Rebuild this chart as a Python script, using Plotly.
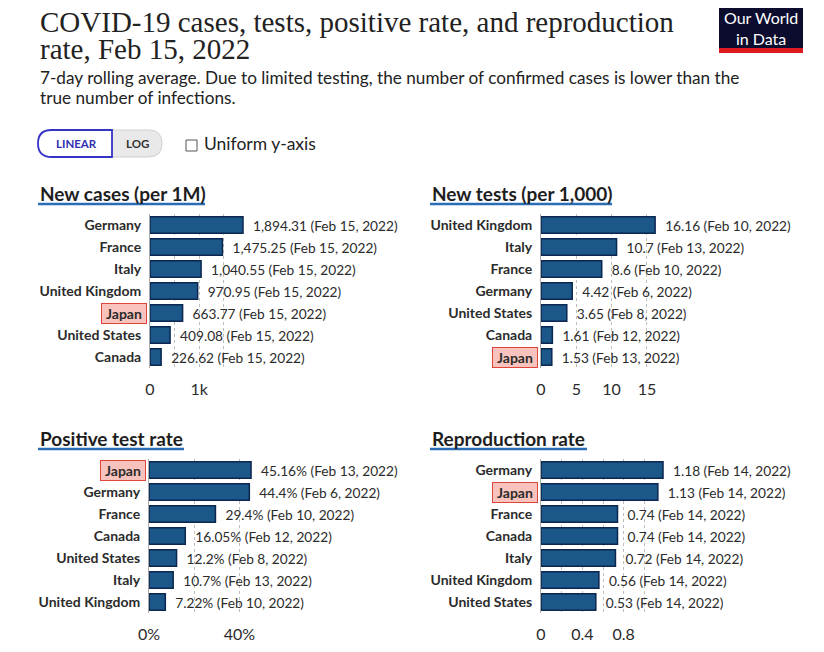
import plotly.graph_objects as go

# page gets an 8px body margin, so the figure is drawn 16px smaller and all
# layout positions below are given in window pixels
OFF = 8
W, H = 824 - 2 * OFF, 652 - 2 * OFF

# New cases (per 1M)
cases_countries = ["Germany", "France", "Italy", "United Kingdom", "Japan", "United States", "Canada"]
cases_values = [1894.31, 1475.25, 1040.55, 970.95, 663.77, 409.08, 226.62]
cases_dates = ["Feb 15, 2022"] * 7

# New tests (per 1,000)
tests_countries = ["United Kingdom", "Italy", "France", "Germany", "United States", "Canada", "Japan"]
tests_values = [16.16, 10.7, 8.6, 4.42, 3.65, 1.61, 1.53]
tests_dates = ["Feb 10, 2022", "Feb 13, 2022", "Feb 10, 2022", "Feb 6, 2022",
               "Feb 8, 2022", "Feb 12, 2022", "Feb 13, 2022"]

# Positive test rate (%)
positive_countries = ["Japan", "Germany", "France", "Canada", "United States", "Italy", "United Kingdom"]
positive_values = [45.16, 44.4, 29.4, 16.05, 12.2, 10.7, 7.22]
positive_dates = ["Feb 13, 2022", "Feb 6, 2022", "Feb 10, 2022", "Feb 12, 2022",
                  "Feb 8, 2022", "Feb 13, 2022", "Feb 10, 2022"]

# Reproduction rate
repro_countries = ["Germany", "Japan", "France", "Canada", "Italy", "United Kingdom", "United States"]
repro_values = [1.18, 1.13, 0.74, 0.74, 0.72, 0.56, 0.53]
repro_dates = ["Feb 14, 2022"] * 7

# x tick values / labels (blank ones only draw a gridline)
cases_ticks, cases_ticktext = [0, 500, 1000, 1500], ["0", "", "1k", ""]
tests_ticks, tests_ticktext = [0, 5, 10, 15], ["0", "5", "10", "15"]
positive_ticks, positive_ticktext = [0, 20, 40], ["0%", "", "40%"]
repro_ticks, repro_ticktext = [0, 0.2, 0.4, 0.6, 0.8, 1.0], ["0", "", "0.4", "", "0.8", ""]

HIGHLIGHT = "Japan"
BAR = "#1b5788"
EDGE = "#0c2750"
TEXT = "#2b2b2b"


def px(x):
    return (x - OFF) / W


def py(y):
    return 1 - (y - OFF) / H


# title, countries, values, dates, suffix, ticks, ticktext, x px span, y px span, axis max, title pos, underline end
panels = [
    ("New cases (per 1M)", cases_countries, cases_values, cases_dates, "",
     cases_ticks, cases_ticktext, (150, 410), (214, 368), 5296, (38, 193), 205),
    ("New tests (per 1,000)", tests_countries, tests_values, tests_dates, "",
     tests_ticks, tests_ticktext, (541, 815), (214, 368), 38.8, (430, 193), 612),
    ("Positive test rate", positive_countries, positive_values, positive_dates, "%",
     positive_ticks, positive_ticktext, (149, 410), (459, 613), 115.5, (38, 438), 184),
    ("Reproduction rate", repro_countries, repro_values, repro_dates, "",
     repro_ticks, repro_ticktext, (541, 815), (459, 613), 2.65, (430, 438), 587),
]

fig = go.Figure()
annotations = []
shapes = []

for i, (title, countries, values, dates, suffix, ticks, ticktext,
        xspan, yspan, xmax, tpos, uend) in enumerate(panels, start=1):
    xa = "x" if i == 1 else f"x{i}"
    ya = "y" if i == 1 else f"y{i}"
    labels = [f"\u00a0\u00a0{v:,}{suffix} ({d})" for v, d in zip(values, dates)]
    fig.add_trace(go.Bar(
        x=values, y=countries, orientation="h", xaxis=xa, yaxis=ya,
        width=0.75, marker=dict(color=BAR, line=dict(color=EDGE, width=1.5)),
        text=labels, textposition="outside", cliponaxis=False, constraintext="none",
        textfont=dict(family="Lato", size=13.7, color=TEXT),
        hovertemplate="%{y}: %{x}<extra></extra>", showlegend=False,
    ))
    xkey = "xaxis" if i == 1 else f"xaxis{i}"
    ykey = "yaxis" if i == 1 else f"yaxis{i}"
    fig.update_layout({
        xkey: dict(domain=[px(xspan[0]), px(xspan[1])], range=[0, xmax], anchor=ya,
                   tickvals=ticks, ticktext=ticktext, showgrid=True, gridcolor="#bdbdbd",
                   griddash="dot", gridwidth=1, zeroline=False, ticks="", showline=False,
                   tickfont=dict(family="Lato", size=16, color=TEXT), ticklabelstandoff=10,
                   automargin=False, fixedrange=True),
        ykey: dict(domain=[py(yspan[1]), py(yspan[0])], type="category", anchor=xa,
                   range=[6.5, -0.5], categoryorder="array", categoryarray=countries,
                   tickvals=countries,
                   ticktext=["" if c == HIGHLIGHT else c for c in countries],
                   showline=True, linecolor="#aaaaaa", linewidth=1, showgrid=False,
                   zeroline=False, ticks="", ticklabelstandoff=5, automargin=False,
                   tickfont=dict(family="Lato", size=14, color=TEXT, weight="bold"),
                   fixedrange=True),
    })
    # highlighted country label
    annotations.append(dict(
        text=HIGHLIGHT, xref=f"{xa} domain", x=0, xanchor="right", xshift=-3,
        yref=ya, y=HIGHLIGHT, yanchor="middle", showarrow=False, width=42, align="center",
        font=dict(family="Lato", size=14, color=TEXT, weight="bold"),
        bgcolor="#f7c3bc", bordercolor="#e0453b", borderwidth=1, borderpad=1,
    ))
    # panel title with underline
    annotations.append(dict(
        text=title, xref="paper", yref="paper", x=px(tpos[0]), y=py(tpos[1]),
        xanchor="left", yanchor="middle", showarrow=False,
        font=dict(family="Lato", size=19, color="#1e1e1e", weight="bold"),
    ))
    shapes.append(dict(type="line", xref="paper", yref="paper",
                       x0=px(tpos[0]), x1=px(uend), y0=py(tpos[1] + 11), y1=py(tpos[1] + 11),
                       line=dict(color="#2a6db5", width=2.5)))

# header text
annotations += [
    dict(text="COVID-19 cases, tests, positive rate, and reproduction", xref="paper", yref="paper",
         x=px(38), y=py(22), xanchor="left", yanchor="middle", showarrow=False,
         font=dict(family="Liberation Serif", size=29, color="#222222")),
    dict(text="rate, Feb 15, 2022", xref="paper", yref="paper",
         x=px(38), y=py(49), xanchor="left", yanchor="middle", showarrow=False,
         font=dict(family="Liberation Serif", size=29, color="#222222")),
    dict(text="7-day rolling average. Due to limited testing, the number of confirmed cases is lower than the",
         xref="paper", yref="paper", x=px(38), y=py(77), xanchor="left", yanchor="middle",
         showarrow=False, font=dict(family="Lato", size=17.2, color="#222222")),
    dict(text="true number of infections.", xref="paper", yref="paper", x=px(38), y=py(98),
         xanchor="left", yanchor="middle", showarrow=False,
         font=dict(family="Lato", size=17.2, color="#222222")),
    # logo
    dict(text="Our World<br>in Data", xref="paper", yref="paper", x=px(761), y=py(28),
         xanchor="center", yanchor="middle", showarrow=False, align="center",
         font=dict(family="Lato", size=16, color="white")),
    # buttons
    dict(text="LINEAR", xref="paper", yref="paper", x=px(76), y=py(144), xanchor="center",
         yanchor="middle", showarrow=False,
         font=dict(family="Lato", size=11.5, color="#2f2fb0", weight="bold")),
    dict(text="LOG", xref="paper", yref="paper", x=px(137), y=py(144), xanchor="center",
         yanchor="middle", showarrow=False,
         font=dict(family="Lato", size=11.5, color="#333333", weight="bold")),
    dict(text="Uniform y-axis", xref="paper", yref="paper", x=px(202), y=py(143),
         xanchor="left", yanchor="middle", showarrow=False,
         font=dict(family="Lato", size=17.5, color="#222222")),
]


def pill_path(x0, x1, y0, y1, left=True):
    r = (y1 - y0) / 2
    if left:
        pts = (f"M {px(x1)},{py(y0)} L {px(x0 + r)},{py(y0)} "
               f"Q {px(x0)},{py(y0)} {px(x0)},{py(y0 + r)} "
               f"Q {px(x0)},{py(y1)} {px(x0 + r)},{py(y1)} L {px(x1)},{py(y1)} Z")
    else:
        pts = (f"M {px(x0)},{py(y0)} L {px(x1 - r)},{py(y0)} "
               f"Q {px(x1)},{py(y0)} {px(x1)},{py(y0 + r)} "
               f"Q {px(x1)},{py(y1)} {px(x1 - r)},{py(y1)} L {px(x0)},{py(y1)} Z")
    return pts


shapes += [
    dict(type="path", xref="paper", yref="paper", path=pill_path(112, 162, 130, 157, left=False),
         fillcolor="#e9e9e9", line=dict(color="#cfcfcf", width=1)),
    dict(type="path", xref="paper", yref="paper", path=pill_path(38, 112, 130, 157, left=True),
         fillcolor="white", line=dict(color="#3434c8", width=1.8)),
    dict(type="rect", xref="paper", yref="paper", x0=px(186), x1=px(197), y0=py(151), y1=py(140),
         fillcolor="white", line=dict(color="#555555", width=1)),
    dict(type="rect", xref="paper", yref="paper", x0=px(719), x1=px(803), y0=py(48), y1=py(5),
         fillcolor="#0c0d2e", line=dict(width=0)),
    dict(type="rect", xref="paper", yref="paper", x0=px(719), x1=px(803), y0=py(53), y1=py(48),
         fillcolor="#dc1a1f", line=dict(width=0)),
]

fig.update_layout(
    template="none",
    width=W, height=H, margin=dict(l=0, r=0, t=0, b=0),
    paper_bgcolor="white", plot_bgcolor="rgba(0,0,0,0)",
    annotations=annotations, shapes=shapes, bargap=0.25,
    font=dict(family="Lato", color=TEXT),
)

fig.write_html("out.html")
